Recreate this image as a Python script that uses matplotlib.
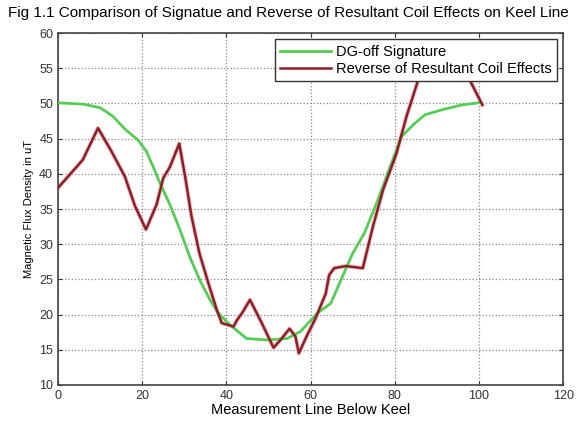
import matplotlib
matplotlib.use('Agg')
import matplotlib.pyplot as plt

plt.rcParams['font.family'] = ['Liberation Sans', 'DejaVu Sans']

# DG-off signature (green)
sig_x = [0, 6, 10, 13, 16, 19, 21, 22.6, 24.2, 26.6, 29, 31.3, 33.7, 36.1, 38.1,
         40.9, 44.8, 49.6, 54.4, 57.6, 61.6, 64.8, 67.2, 70, 72.8, 76, 79.2,
         81.6, 84.8, 87.2, 91.2, 96, 100]
sig_y = [50.1, 49.9, 49.4, 48.2, 46.3, 44.8, 43.2, 41, 38.7, 35.6, 32, 28.2, 24.9,
         22.1, 20.2, 18.5, 16.6, 16.4, 16.6, 17.6, 20.2, 21.6, 24.9, 28.7, 31.6,
         36.3, 41.5, 45.3, 47.2, 48.4, 49.1, 49.8, 50.1]

# reverse of resultant coil effects (red)
rev_x = [0, 2.8, 5.9, 9.5, 12.7, 15.9, 18.3, 20.9, 23.4, 25, 26.6, 28.8, 30.2,
         31.7, 33.6, 35.7, 37.7, 38.9, 41.7, 42.5, 43.7, 45.6, 48.4, 51.2, 53,
         55, 56.4, 57.2, 59.2, 61.2, 63.6, 64.4, 65.6, 68.4, 72.4, 74.8, 77.2,
         80.4, 82.8, 85.6, 87.5, 95.5, 98, 100.8]
rev_y = [38, 39.9, 42, 46.5, 43.2, 39.6, 35.4, 32.1, 35.6, 39.4, 41, 44.3, 39.6,
         34, 28.7, 24.5, 20.7, 18.8, 18.3, 19.2, 20.2, 22.1, 18.8, 15.3, 16.5,
         18, 16.9, 14.5, 17.1, 19.5, 23, 25.6, 26.6, 26.9, 26.6, 32.5, 37.7,
         42.9, 48.2, 53.4, 57, 56.5, 53.1, 49.8]

x_ticks = [0, 20, 40, 60, 80, 100, 120]
y_ticks = [10, 15, 20, 25, 30, 35, 40, 45, 50, 55, 60]

fig = plt.figure(figsize=(5.8, 4.24), dpi=100)
ax = fig.add_axes([0.1, 0.092, 0.871, 0.83])

ax.plot(sig_x, sig_y, color='#55cc55', lw=2, label='DG-off Signature', zorder=3)
ax.plot(rev_x, rev_y, color='#f0a0a0', lw=3.2, alpha=0.6, zorder=2)
ax.plot(rev_x, rev_y, color='#8a1f2a', lw=1.8,
        label='Reverse of Resultant Coil Effects', zorder=4)

ax.set_xlim(0, 120)
ax.set_ylim(10, 60)
ax.set_xticks(x_ticks)
ax.set_yticks(y_ticks)
ax.tick_params(direction='in', top=True, right=True, labelsize=9, length=3,
               colors='#333333')
ax.grid(True, linestyle=':', color='#888888', lw=0.9)
for s in ax.spines.values():
    s.set_linewidth(1.2)
    s.set_color('#444444')

ax.set_xlabel('Measurement Line Below Keel', fontsize=10.5, labelpad=1)
ax.set_ylabel('Magnetic Flux Density in uT', fontsize=8)

leg = ax.legend(loc='upper right', fontsize=10.5, fancybox=False,
                framealpha=1, edgecolor='#333333', borderpad=0.4,
                handlelength=3.5, handletextpad=0.3, labelspacing=0.2,
                borderaxespad=0.4)
leg.set_zorder(10)

fig.text(0.014, 0.985, 'Fig 1.1 Comparison of Signatue and Reverse of Resultant '
         'Coil Effects on Keel Line', fontsize=11, ha='left', va='top')

fig.savefig('out.png', dpi=100)
